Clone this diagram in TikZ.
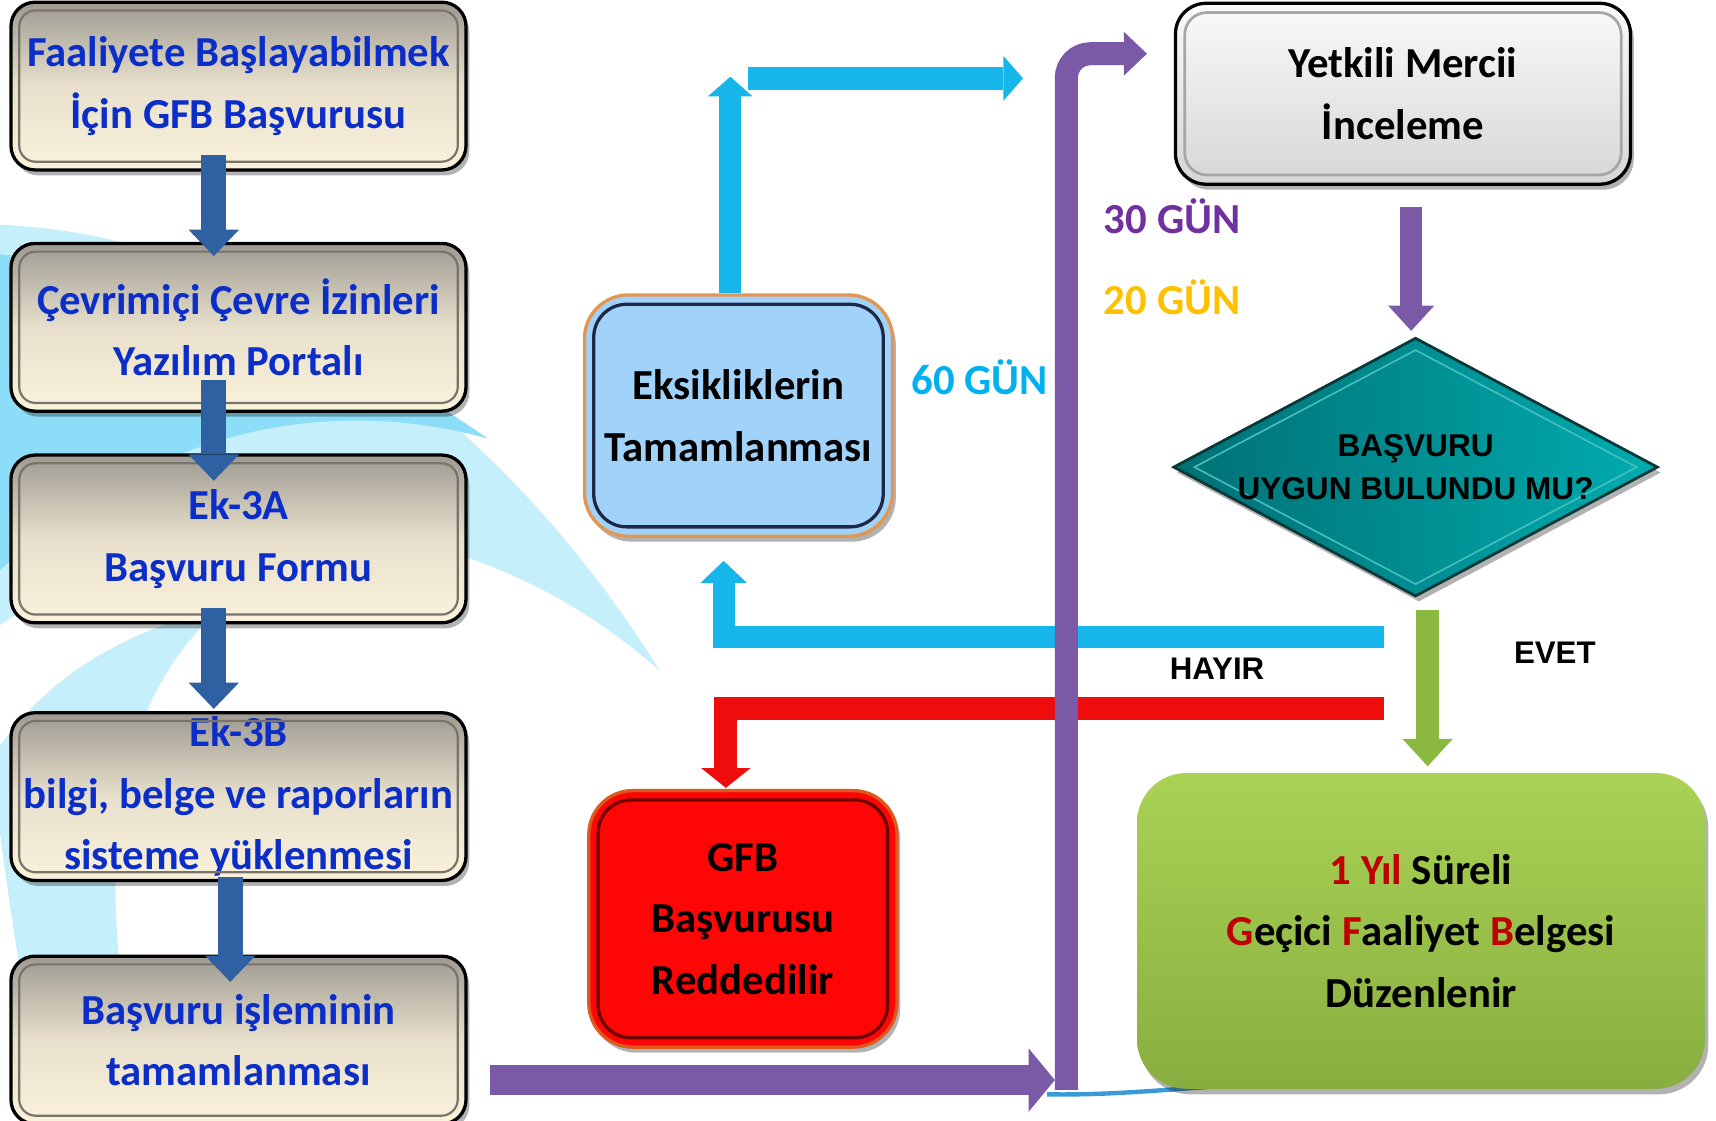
\documentclass[tikz,border=0pt]{standalone}
\usepackage{fontspec}
\setmainfont{Carlito}
\newfontfamily\arialfont{Liberation Sans}
\usetikzlibrary{arrows.meta,shapes.geometric,shadows}
\definecolor{boxblue}{RGB}{12,46,200}
\definecolor{lgtop}{RGB}{158,154,146}
\definecolor{lgmid}{RGB}{232,224,204}
\definecolor{lgbot}{RGB}{250,242,218}
\definecolor{lgframe}{RGB}{120,116,108}
\definecolor{arrblue}{RGB}{46,96,162}
\definecolor{cyanarr}{RGB}{22,182,234}
\definecolor{redarr}{RGB}{238,12,12}
\definecolor{purarr}{RGB}{122,90,166}
\definecolor{grnarr}{RGB}{138,184,64}
\definecolor{eksfill}{RGB}{160,210,250}
\definecolor{eksedge}{RGB}{226,150,80}
\definecolor{eksframe}{RGB}{30,40,70}
\definecolor{redfill}{RGB}{255,6,6}
\definecolor{rededge}{RGB}{220,90,30}
\definecolor{redframe}{RGB}{110,0,0}
\definecolor{grntop}{RGB}{170,210,84}
\definecolor{grnbot}{RGB}{136,174,64}
\definecolor{diaL}{RGB}{0,112,116}
\definecolor{diaR}{RGB}{0,172,175}
\definecolor{diaedge}{RGB}{10,55,55}
\definecolor{diainner}{RGB}{70,190,190}
\definecolor{gpurple}{RGB}{112,48,160}
\definecolor{ggold}{RGB}{255,192,0}
\definecolor{gcyan}{RGB}{0,176,240}
\definecolor{dred}{RGB}{192,0,0}
\definecolor{swl}{RGB}{198,239,252}
\definecolor{sws}{RGB}{140,221,248}
\definecolor{thinblue}{RGB}{58,154,217}
\newcommand\innerframe[4]{\draw[#4, rounded corners=#3] ([shift={(#2,-#2)}]#1.north west) rectangle ([shift={(-#2,#2)}]#1.south east);}
\begin{document}
\begin{tikzpicture}[x=1pt,y=-1pt,
 boxshadow/.style={drop shadow={shadow xshift=3pt, shadow yshift=-5pt, opacity=0.3, fill=black}},
 mtext/.style={font=\bfseries\fontsize{39}{56}\selectfont, align=center, inner sep=0pt},
 lbox/.style={mtext, rectangle, rounded corners=22pt, draw=black, line width=3pt,
   top color=lgtop, bottom color=lgbot, middle color=lgmid,
   minimum width=415pt, minimum height=153pt, text=boxblue, boxshadow},
 lframe/.style={draw=lgframe, line width=2pt},
 gun/.style={font=\bfseries\fontsize{39}{39}\selectfont, anchor=base, inner sep=0pt},
 yesno/.style={font=\arialfont\bfseries\fontsize{28.5}{30}\selectfont, anchor=base, inner sep=0pt},
 blockarr/.style n args={4}{draw=#1, line width=#2, line cap=butt, line join=miter,
   -{Triangle[length=#3, width=#4, line width=0pt]}}
]
\useasboundingbox (0,0) rectangle (1565,1022.3);
\fill[white] (0,0) rectangle (1565,1022.3);
% background swooshes
\fill[swl] (0,205) .. controls (250,215) and (470,400) .. (602,612) .. controls (430,460) and (200,440) .. (0,570) -- cycle;
\fill[sws] (0,232) .. controls (170,245) and (330,320) .. (445,400) .. controls (300,360) and (140,390) .. (0,520) -- cycle;
\fill[swl] (0,680) .. controls (50,610) and (120,575) .. (205,552) .. controls (100,640) and (80,800) .. (135,1022.3) -- (40,1022.3) .. controls (20,900) and (5,800) .. (0,760) -- cycle;
\draw[thinblue, line width=4pt] (955,998) .. controls (1010,999) and (1060,994) .. (1120,990);

% left column
\node[lbox] (b1) at (217.5,78.5) {Faaliyete Başlayabilmek\\İçin GFB Başvurusu};
\node[lbox] (b2) at (217.5,298.5) {Çevrimiçi Çevre İzinleri\\Yazılım Portalı};
\node[lbox] (b3) at (217.5,491.5) {Ek-3A\\Başvuru Formu};
\node[lbox] (b4) at (217.5,726.5) {Ek-3B\\bilgi, belge ve raporların\\sisteme yüklenmesi};
\node[lbox] (b5) at (217.5,948.5) {Başvuru işleminin\\tamamlanması};
\foreach \n in {b1,b2,b3,b4,b5} {\innerframe{\n}{9pt}{15pt}{lframe}}

\draw[blockarr={arrblue}{23pt}{24pt}{46pt}] ([xshift=-22.5pt,yshift=15pt]b1.south) -- ([xshift=-22.5pt,yshift=-13pt]b2.north);
\draw[blockarr={arrblue}{23pt}{24pt}{46pt}] ([xshift=-22.5pt,yshift=30pt]b2.south) -- ([xshift=-22.5pt,yshift=-25pt]b3.north);
\draw[blockarr={arrblue}{23pt}{24pt}{46pt}] ([xshift=-22.5pt,yshift=15pt]b3.south) -- ([xshift=-22.5pt,yshift=2pt]b4.north);
\draw[blockarr={arrblue}{23pt}{24pt}{46pt}] ([xshift=-7.5pt,yshift=5pt]b4.south) -- ([xshift=-7.5pt,yshift=-25pt]b5.north);

% middle boxes
\node[mtext, rectangle, rounded corners=40pt, draw=eksedge, line width=3pt, fill=eksfill,
  minimum width=281pt, minimum height=220pt, boxshadow] (eks) at (673.5,379) {Eksikliklerin\\Tamamlanması};
\innerframe{eks}{10pt}{30pt}{draw=eksframe, line width=3pt}
\node[mtext, rectangle, rounded corners=40pt, draw=rededge, line width=3pt, fill=redfill,
  minimum width=281pt, minimum height=234pt, boxshadow] (red) at (677.5,838) {GFB\\Başvurusu\\Reddedilir};
\innerframe{red}{10pt}{30pt}{draw=redframe, line width=3pt}

% right boxes
\node[mtext, rectangle, rounded corners=28pt, draw=black, line width=3pt, top color=gray!4, bottom color=gray!32,
  minimum width=415pt, minimum height=165pt, boxshadow] (ytk) at (1279.5,85.5) {Yetkili Mercii\\İnceleme};
\innerframe{ytk}{10pt}{20pt}{draw=gray!70, line width=2.5pt}
\node[diamond, draw=diaedge, line width=2.5pt, left color=diaL, right color=diaR,
  minimum width=442pt, minimum height=236pt, inner sep=0pt, boxshadow] (dia) at (1291,426) {};
\node[diamond, draw=diainner, line width=1.5pt, minimum width=404pt, minimum height=214pt, inner sep=0pt] (diain) at (dia.center) {};
\node[font=\arialfont\bfseries\fontsize{28.8}{40}\selectfont, align=center, inner sep=0pt] (diatext) at (dia.center) {BAŞVURU\\UYGUN BULUNDU MU?};
\node[mtext, rectangle, rounded corners=45pt, top color=grntop, bottom color=grnbot,
  minimum width=518pt, minimum height=288pt, boxshadow] (grn) at (1296,849)
  {\textcolor{dred}{1 Yıl} Süreli\\\textcolor{dred}{G}eçici \textcolor{dred}{F}aaliyet \textcolor{dred}{B}elgesi\\Düzenlenir};

% labels
\node[gun, text=gpurple] (g30) at (1069,212.5) {30 GÜN};
\node[gun, text=ggold] (g20) at (1069,286.5) {20 GÜN};
\node[gun, text=gcyan] (g60) at (893.5,360) {60 GÜN};
\node[yesno] (hayir) at (1110,619.5) {HAYIR};
\node[yesno] (evet) at (1418,605.5) {EVET};

% coordinates for free ends
\coordinate (cyT) at (666,70);
\coordinate (chA) at (682,71.5);
\coordinate (chB) at (933,71.5);
\coordinate (hyS) at (1262,581);
\coordinate (rdS) at (1262,646);
\coordinate (pS) at (972.5,994);
\coordinate (pT) at (1046,49);
\coordinate (pbS) at (447,985);
\coordinate (pbT) at (962,985);

% connectors
\draw[blockarr={cyanarr}{20pt}{18pt}{41pt}] (cyT |- eks.north) -- (cyT);
\draw[blockarr={cyanarr}{21pt}{18pt}{41pt}] (chA) -- (chB);
\draw[blockarr={cyanarr}{20pt}{20pt}{42pt}] (hyS) -| ([xshift=-13.5pt,yshift=-21pt]eks.south);
\draw[blockarr={redarr}{21pt}{18pt}{45pt}] (rdS) -| ([xshift=-15.5pt,yshift=1pt]red.north);
\draw[blockarr={purarr}{20pt}{23pt}{42pt}] ([xshift=7.5pt,yshift=-19pt]ytk.south) -- ([xshift=-4pt,yshift=5pt]dia.north);
\draw[blockarr={grnarr}{21pt}{25pt}{46pt}] ([xshift=11pt,yshift=-11pt]dia.south) -- ([xshift=6pt,yshift=6pt]grn.north);
\draw[blockarr={purarr}{21pt}{21pt}{40pt}, rounded corners=22pt] (pS) |- (pT);
\draw[blockarr={purarr}{27pt}{24pt}{58pt}] (pbS) -- (pbT);
\end{tikzpicture}
\end{document}
